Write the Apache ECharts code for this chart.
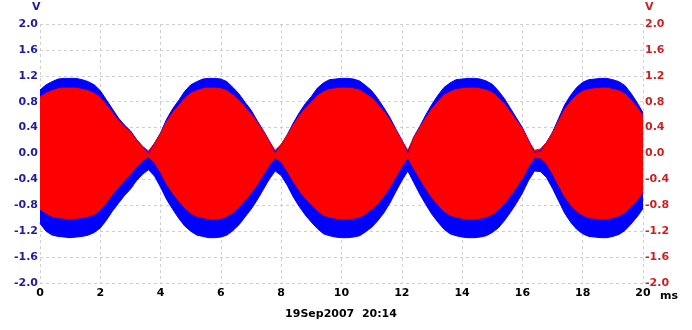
<!DOCTYPE html>
<html>
<head>
<meta charset="utf-8">
<script src="https://cdn.jsdelivr.net/npm/echarts@6/dist/echarts.min.js"></script>
<style>
  html, body { margin: 0; padding: 0; background: #fff; }
  #main { width: 692px; height: 330px; }
</style>
</head>
<body>
<div id="main"></div>
<script>
// sample instants (ms) of the envelope readings
const timeMs = [
  0, 0.2, 0.4, 0.6, 0.8, 1, 1.2, 1.4, 1.6, 1.8,
  2, 2.2, 2.4, 2.6, 2.8, 3, 3.2, 3.4, 3.6, 3.8,
  4, 4.2, 4.4, 4.6, 4.8, 5, 5.2, 5.4, 5.6, 5.8,
  6, 6.2, 6.4, 6.6, 6.8, 7, 7.2, 7.4, 7.6, 7.8,
  8, 8.2, 8.4, 8.6, 8.8, 9, 9.2, 9.4, 9.6, 9.8,
  10, 10.2, 10.4, 10.6, 10.8, 11, 11.2, 11.4, 11.6, 11.8,
  12, 12.2, 12.4, 12.6, 12.8, 13, 13.2, 13.4, 13.6, 13.8,
  14, 14.2, 14.4, 14.6, 14.8, 15, 15.2, 15.4, 15.6, 15.8,
  16, 16.2, 16.4, 16.6, 16.8, 17, 17.2, 17.4, 17.6, 17.8,
  18, 18.2, 18.4, 18.6, 18.8, 19, 19.2, 19.4, 19.6, 19.8,
  20
];

// channel A (blue), upper / lower envelope in V
const blueUpper = [
  0.98, 1.06, 1.11, 1.15, 1.16, 1.16, 1.16, 1.14, 1.11, 1.06,
  0.97, 0.83, 0.69, 0.55, 0.44, 0.35, 0.22, 0.11, 0.01, 0.16,
  0.32, 0.53, 0.69, 0.82, 0.96, 1.06, 1.11, 1.15, 1.16, 1.16,
  1.15, 1.11, 1.02, 0.92, 0.79, 0.67, 0.51, 0.36, 0.20, 0.02,
  0.14, 0.29, 0.47, 0.63, 0.77, 0.88, 1.01, 1.09, 1.14, 1.15,
  1.16, 1.16, 1.15, 1.12, 1.05, 0.97, 0.85, 0.71, 0.56, 0.38,
  0.21, 0.02, 0.26, 0.42, 0.60, 0.76, 0.90, 1.02, 1.09, 1.14,
  1.15, 1.16, 1.16, 1.15, 1.12, 1.07, 0.97, 0.85, 0.70, 0.55,
  0.40, 0.21, 0.02, 0.04, 0.17, 0.33, 0.54, 0.75, 0.90, 1.02,
  1.10, 1.14, 1.15, 1.16, 1.16, 1.14, 1.11, 1.05, 0.93, 0.79,
  0.63
];
const blueLower = [
  -1.08, -1.20, -1.26, -1.28, -1.29, -1.30, -1.29, -1.28, -1.26, -1.22,
  -1.15, -1.03, -0.89, -0.77, -0.65, -0.55, -0.42, -0.32, -0.25, -0.35,
  -0.52, -0.71, -0.86, -1.00, -1.12, -1.20, -1.26, -1.28, -1.30, -1.30,
  -1.29, -1.26, -1.19, -1.10, -0.98, -0.86, -0.72, -0.56, -0.40, -0.27,
  -0.34, -0.49, -0.67, -0.82, -0.95, -1.06, -1.16, -1.24, -1.27, -1.29,
  -1.30, -1.30, -1.29, -1.27, -1.21, -1.14, -1.04, -0.92, -0.77, -0.59,
  -0.42, -0.27, -0.45, -0.63, -0.79, -0.94, -1.06, -1.17, -1.24, -1.27,
  -1.29, -1.30, -1.30, -1.29, -1.27, -1.22, -1.15, -1.04, -0.91, -0.77,
  -0.61, -0.42, -0.27, -0.28, -0.37, -0.54, -0.73, -0.92, -1.06, -1.17,
  -1.24, -1.28, -1.29, -1.30, -1.30, -1.28, -1.25, -1.19, -1.09, -0.98,
  -0.85
];

// channel B (red), upper / lower envelope in V
const redUpper = [
  0.87, 0.93, 0.97, 1.00, 1.01, 1.01, 1.01, 0.99, 0.97, 0.93,
  0.86, 0.75, 0.63, 0.51, 0.41, 0.33, 0.21, 0.11, 0.04, 0.16,
  0.31, 0.49, 0.63, 0.74, 0.85, 0.93, 0.97, 1.00, 1.01, 1.01,
  1.00, 0.97, 0.90, 0.82, 0.71, 0.61, 0.48, 0.34, 0.19, 0.05,
  0.14, 0.28, 0.44, 0.58, 0.70, 0.79, 0.89, 0.95, 0.99, 1.00,
  1.01, 1.01, 1.00, 0.98, 0.92, 0.86, 0.76, 0.65, 0.52, 0.36,
  0.20, 0.05, 0.25, 0.40, 0.55, 0.69, 0.80, 0.90, 0.95, 0.99,
  1.00, 1.01, 1.01, 1.00, 0.98, 0.94, 0.86, 0.76, 0.64, 0.51,
  0.38, 0.20, 0.05, 0.07, 0.17, 0.32, 0.50, 0.68, 0.80, 0.90,
  0.96, 0.99, 1.00, 1.01, 1.01, 0.99, 0.97, 0.92, 0.83, 0.71,
  0.58
];
const redLower = [
  -0.86, -0.92, -0.97, -0.99, -1.00, -1.01, -1.00, -0.99, -0.97, -0.94,
  -0.87, -0.76, -0.63, -0.52, -0.41, -0.32, -0.20, -0.11, -0.05, -0.14,
  -0.29, -0.47, -0.61, -0.73, -0.84, -0.92, -0.97, -0.99, -1.01, -1.01,
  -1.00, -0.97, -0.91, -0.83, -0.72, -0.61, -0.48, -0.33, -0.18, -0.06,
  -0.13, -0.27, -0.43, -0.57, -0.69, -0.79, -0.88, -0.95, -0.98, -1.00,
  -1.01, -1.01, -1.00, -0.98, -0.93, -0.86, -0.77, -0.66, -0.52, -0.36,
  -0.20, -0.06, -0.23, -0.39, -0.54, -0.68, -0.79, -0.89, -0.95, -0.98,
  -1.00, -1.01, -1.01, -1.00, -0.98, -0.94, -0.87, -0.77, -0.65, -0.52,
  -0.38, -0.20, -0.06, -0.07, -0.16, -0.31, -0.49, -0.66, -0.79, -0.89,
  -0.95, -0.99, -1.00, -1.01, -1.01, -0.99, -0.96, -0.91, -0.82, -0.72,
  -0.60
];

const FONT = 'DejaVu Sans';
const BLUE = '#0000ff';
const RED = '#ff0000';
const BLUE_TXT = '#1c1c9c';
const RED_TXT = '#cc1f1f';

function pairs(values) {
  return timeMs.map((t, i) => [t, values[i]]);
}

// filled envelope; origin is pushed a little past zero so the two halves overlap
function envelope(values, color, origin) {
  return {
    type: 'line',
    data: pairs(values),
    symbol: 'none',
    silent: true,
    lineStyle: { color: color, width: 1 },
    areaStyle: { color: color, opacity: 1, origin: origin }
  };
}

var myChart = echarts.init(document.getElementById('main'), null, { renderer: 'canvas' });

var gridLine = { show: true, lineStyle: { color: '#cfcfcf', type: [3, 3], width: 1 } };

var option = {
  animation: false,
  backgroundColor: '#fff',
  grid: { left: 40, right: 49, top: 24, bottom: 47 },
  xAxis: {
    type: 'value',
    min: 0,
    max: 20,
    interval: 2,
    axisLine: { show: false },
    axisTick: { show: false },
    splitLine: gridLine,
    axisLabel: { color: '#000', fontFamily: FONT, fontWeight: 'bold', fontSize: 11, margin: 5 }
  },
  yAxis: [
    {
      type: 'value',
      min: -2,
      max: 2,
      interval: 0.4,
      axisLine: { show: false },
      axisTick: { show: false },
      splitLine: gridLine,
      axisLabel: {
        color: BLUE_TXT, fontFamily: FONT, fontWeight: 'bold', fontSize: 11, margin: 2,
        formatter: v => v.toFixed(1)
      }
    },
    {
      type: 'value',
      position: 'right',
      min: -2,
      max: 2,
      interval: 0.4,
      axisLine: { show: false },
      axisTick: { show: false },
      splitLine: { show: false },
      axisLabel: {
        color: RED_TXT, fontFamily: FONT, fontWeight: 'bold', fontSize: 11, margin: 2,
        formatter: v => v.toFixed(1)
      }
    }
  ],
  series: [
    envelope(blueUpper, BLUE, -0.15),
    envelope(blueLower, BLUE, -0.1),
    envelope(redUpper, RED, -0.03),
    envelope(redLower, RED, 0.03)
  ],
  graphic: [
    { type: 'text', left: 32, top: 2, style: { text: 'V', fill: BLUE_TXT, font: 'bold 11px "DejaVu Sans"' } },
    { type: 'text', left: 645, top: 2, style: { text: 'V', fill: RED_TXT, font: 'bold 11px "DejaVu Sans"' } },
    { type: 'text', left: 660, top: 291, style: { text: 'ms', fill: '#000', font: 'bold 11px "DejaVu Sans"' } },
    { type: 'text', x: 341, y: 314, style: { text: '19Sep2007  20:14', fill: '#000', font: 'bold 11px "DejaVu Sans"', align: 'center', verticalAlign: 'middle' } }
  ]
};

myChart.setOption(option);
</script>
</body>
</html>
